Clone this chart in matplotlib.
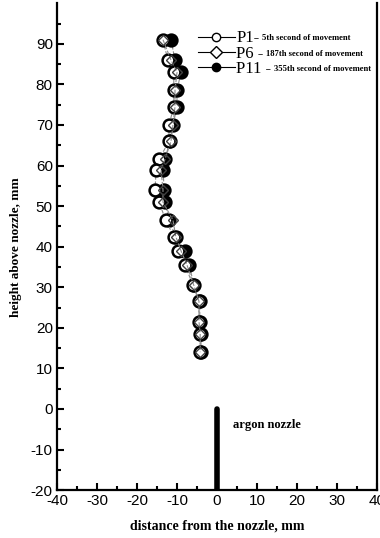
import numpy as np
import matplotlib
matplotlib.use("Agg")
import matplotlib.pyplot as plt
from matplotlib.lines import Line2D

plt.rcParams["axes.unicode_minus"] = False

# heights above nozzle, mm
height = [91, 86, 83, 78.5, 74.5, 70, 66, 61.5, 59, 54, 51, 46.5, 42.5, 39, 35.5, 30.5, 26.5, 21.5, 18.5, 14]
# distance from the nozzle, mm
p1 = [-13.5, -12.3, -10.8, -10.8, -10.8, -12, -12, -14.5, -15.2, -15.5, -14.5, -12.8, -10.8, -9.8, -8, -6, -4.5, -4.5, -4.2, -4.2]
p6 = [-13.5, -11.5, -10, -10.5, -10.5, -11, -11.5, -13, -14, -13.5, -13.5, -11, -10.3, -9, -7.5, -5.8, -4.5, -4.5, -4.2, -4.2]
p11 = [-11.5, -10.5, -9, -10, -10, -11, -11.8, -13, -13.5, -13.2, -13, -12, -10.3, -8, -7, -5.7, -4.3, -4.3, -4, -4]

labels_big = ["P1-", "P6 -", "P11 -"]
labels_small = ["5th second of movement", "187th second of movement", "355th second of movement"]

serif = ["Liberation Serif", "DejaVu Serif"]
sans = ["Liberation Sans", "DejaVu Sans"]

fig = plt.figure(figsize=(3.8, 5.38), dpi=100)
ax = fig.add_axes([0.15, 0.089, 0.842, 0.905])

ms = 8.5
mew = 1.8
ax.plot(p11, height, "--", color="0.55", lw=0.8, marker="o", ms=ms, mfc="black", mec="black", mew=mew, zorder=3)
ax.plot(p1, height, "--", color="0.55", lw=0.8, marker="o", ms=ms, mfc="white", mec="black", mew=mew, zorder=4)
ax.plot(p6, height, "--", color="0.55", lw=0.8, marker="D", ms=5.5, mfc="none", mec="0.25", mew=1.0, zorder=5)

# argon nozzle
ax.plot([0, 0], [-20, 0], color="black", lw=4, solid_capstyle="round", zorder=2)
ax.text(4, -4, "argon nozzle", family=serif, fontweight="bold", fontsize=9, va="center")

ax.set_xlim(-40, 40)
ax.set_ylim(-20, 100)
ax.set_xticks(np.arange(-40, 41, 10))
ax.set_yticks(np.arange(-20, 91, 10))
ax.set_xticks(np.arange(-35, 40, 10), minor=True)
ax.set_yticks(np.arange(-15, 96, 10), minor=True)
ax.tick_params(which="both", direction="in", top=False, right=False, width=1.5)
ax.tick_params(which="major", length=5, labelsize=11, pad=3)
ax.tick_params(which="minor", length=3)
for t in ax.get_xticklabels() + ax.get_yticklabels():
    t.set_family(sans)
for s in ["left", "bottom", "right"]:
    ax.spines[s].set_linewidth(1.6)
ax.spines["top"].set_visible(False)

ax.set_xlabel("distance from the nozzle, mm", family=serif, fontweight="bold", fontsize=10, labelpad=8)
ax.set_ylabel("height above nozzle, mm", family=serif, fontweight="bold", fontsize=9.5, labelpad=6)

handles = [
    Line2D([], [], color="black", lw=0.8, marker="o", ms=6, mfc="white", mec="black"),
    Line2D([], [], color="black", lw=0.8, marker="D", ms=6, mfc="white", mec="black"),
    Line2D([], [], color="black", lw=0.8, marker="o", ms=6, mfc="black", mec="black"),
]
leg = ax.legend(handles, labels_big, loc="upper left", bbox_to_anchor=(0.42, 0.958), frameon=False,
                prop={"family": serif, "size": 12}, handlelength=2.2, handletextpad=0.1,
                labelspacing=-0.05, borderaxespad=0)

# small descriptions right after each legend label
fig.canvas.draw()
inv = ax.transAxes.inverted()
for t, s in zip(leg.get_texts(), labels_small):
    bb = t.get_window_extent()
    x, y = inv.transform((bb.x1 + 2, (bb.y0 + bb.y1) / 2))
    ax.text(x, y, s, transform=ax.transAxes, family=serif, fontweight="bold", fontsize=6.2, va="center")

fig.savefig("out.png", dpi=100)
